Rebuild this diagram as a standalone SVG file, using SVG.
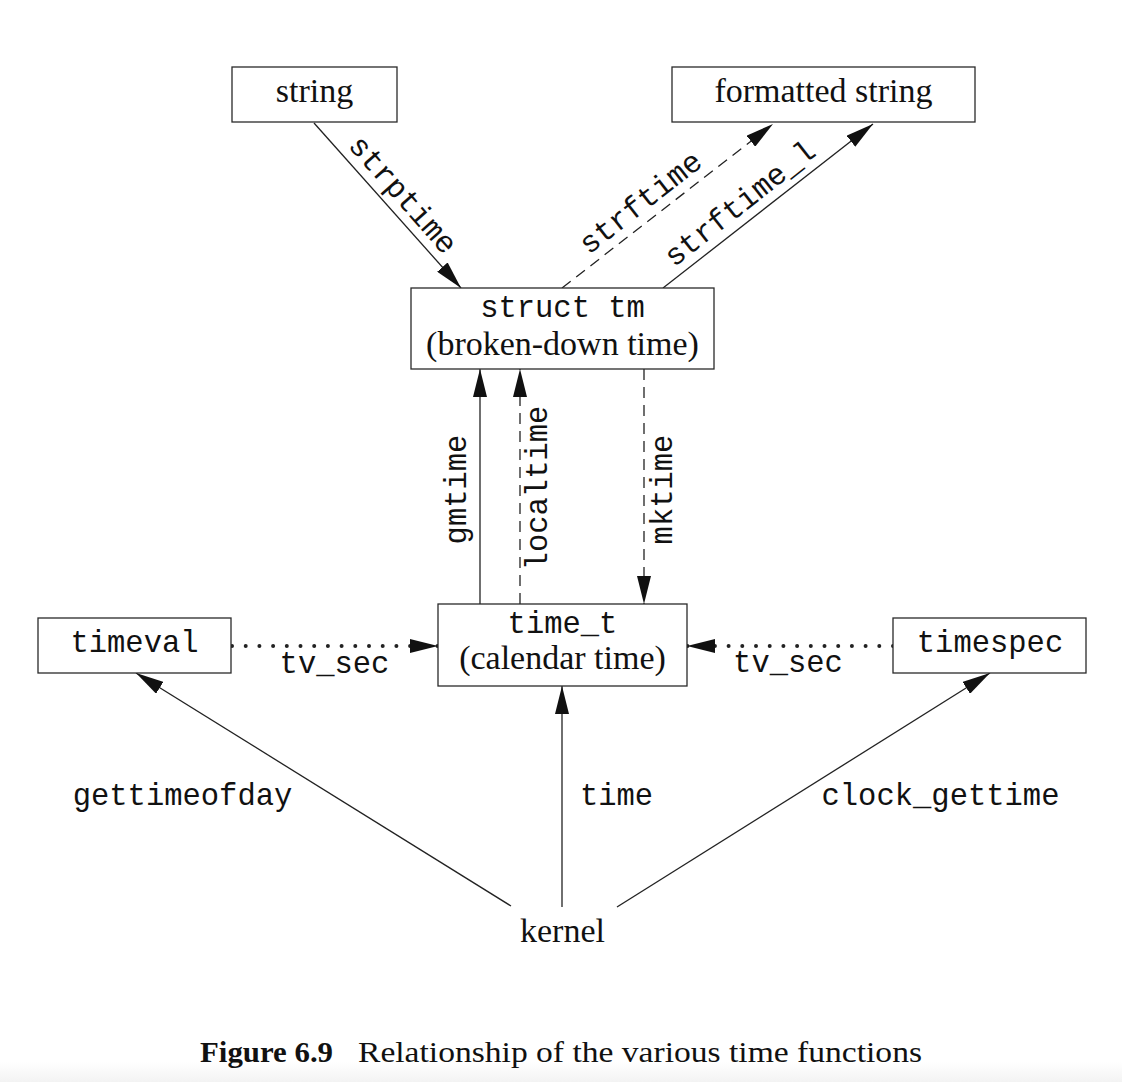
<svg xmlns="http://www.w3.org/2000/svg" width="1122" height="1082" viewBox="0 0 1122 1082">
  <style>
    .box { fill: #ffffff; stroke: #2a2a2a; stroke-width: 1.3; }
    .serif { font-family: "Liberation Serif", "Times New Roman", serif; font-size: 34px; fill: #111; }
    .mono { font-family: "Liberation Mono", "Courier New", monospace; font-size: 30.5px; fill: #111; }
    .ln { fill: none; stroke: #222; stroke-width: 1.3; }
    .dash { stroke-dasharray: 11 7; }
    .dot { stroke-width: 4; stroke-linecap: round; stroke-dasharray: 0 13.7; }
    .cap { font-family: "Liberation Serif", "Times New Roman", serif; font-size: 30px; fill: #111; }
  </style>
  <defs>
    <marker id="arr" markerUnits="userSpaceOnUse" markerWidth="28" markerHeight="14" refX="28" refY="7" orient="auto">
      <path d="M0,0 L28,7 L0,14 z" fill="#111"/>
    </marker>
    <linearGradient id="bottomfade" x1="0" y1="0" x2="0" y2="1">
      <stop offset="0" stop-color="#ffffff"/>
      <stop offset="1" stop-color="#f3f3f3"/>
    </linearGradient>
  </defs>
  <rect x="0" y="0" width="1122" height="1082" fill="#ffffff"/>
  <rect x="0" y="1062" width="1122" height="20" fill="url(#bottomfade)"/>

  <g id="connectors">
    <line id="e-strptime" class="ln" x1="314" y1="123" x2="461" y2="288" marker-end="url(#arr)"/>
    <line id="e-strftime" class="ln dash" x1="562" y1="288" x2="773" y2="124" marker-end="url(#arr)"/>
    <line id="e-strftime_l" class="ln" x1="663" y1="288" x2="873" y2="124" marker-end="url(#arr)"/>
    <line id="e-gmtime" class="ln" x1="480" y1="604" x2="480" y2="369" marker-end="url(#arr)"/>
    <line id="e-localtime" class="ln dash" x1="520" y1="604" x2="520" y2="369" marker-end="url(#arr)"/>
    <line id="e-mktime" class="ln dash" x1="644" y1="369" x2="644" y2="604" marker-end="url(#arr)"/>
    <line id="e-tvsec-l" class="ln dot" x1="232" y1="646" x2="438" y2="646" marker-end="url(#arr)"/>
    <line id="e-tvsec-r" class="ln dot" x1="893" y1="646" x2="687" y2="646" marker-end="url(#arr)"/>
    <line id="e-gettimeofday" class="ln" x1="511" y1="906" x2="136" y2="673" marker-end="url(#arr)"/>
    <line id="e-time" class="ln" x1="562" y1="907" x2="562" y2="686" marker-end="url(#arr)"/>
    <line id="e-clock_gettime" class="ln" x1="617" y1="907" x2="990" y2="673" marker-end="url(#arr)"/>

    <text class="mono" text-anchor="middle" transform="translate(389,207) rotate(48.5)" y="-9">strptime</text>
    <text class="mono" text-anchor="middle" transform="translate(652.6,218) rotate(-38)" y="-10">strftime</text>
    <text class="mono" text-anchor="middle" transform="translate(752,219) rotate(-38.2)" y="-10">strftime_l</text>
    <text class="mono" text-anchor="middle" transform="translate(466,489.5) rotate(-90)">gmtime</text>
    <text class="mono" text-anchor="middle" transform="translate(547,488) rotate(-90)">localtime</text>
    <text class="mono" text-anchor="middle" transform="translate(671.5,489.5) rotate(-90)">mktime</text>
    <text class="mono" text-anchor="middle" x="334.5" y="673">tv_sec</text>
    <text class="mono" text-anchor="middle" x="788" y="672">tv_sec</text>
    <text class="mono" text-anchor="middle" x="182.5" y="805">gettimeofday</text>
    <text class="mono" text-anchor="middle" x="616.5" y="805">time</text>
    <text class="mono" text-anchor="middle" x="940.5" y="805">clock_gettime</text>
  </g>

  <g id="n-string">
    <rect class="box" x="232" y="67" width="165" height="55"/>
    <text class="serif" text-anchor="middle" x="314.5" y="102">string</text>
  </g>
  <g id="n-formatted">
    <rect class="box" x="672" y="67" width="303" height="55"/>
    <text class="serif" text-anchor="middle" x="823.5" y="102">formatted string</text>
  </g>
  <g id="n-structtm">
    <rect class="box" x="411" y="288" width="303" height="81"/>
    <text class="mono" text-anchor="middle" x="562.5" y="317">struct tm</text>
    <text class="serif" text-anchor="middle" x="562.5" y="355">(broken-down time)</text>
  </g>
  <g id="n-time_t">
    <rect class="box" x="438" y="604" width="249" height="82"/>
    <text class="mono" text-anchor="middle" x="562.5" y="633">time_t</text>
    <text class="serif" text-anchor="middle" x="562.5" y="669">(calendar time)</text>
  </g>
  <g id="n-timeval">
    <rect class="box" x="38" y="618" width="193" height="55"/>
    <text class="mono" text-anchor="middle" x="134.5" y="652">timeval</text>
  </g>
  <g id="n-timespec">
    <rect class="box" x="893" y="618" width="193" height="55"/>
    <text class="mono" text-anchor="middle" x="990" y="652">timespec</text>
  </g>
  <g id="n-kernel">
    <text class="serif" text-anchor="middle" x="562.5" y="942">kernel</text>
  </g>

  <g id="caption">
    <text class="cap" font-weight="bold" x="200" y="1061.5" textLength="133" lengthAdjust="spacingAndGlyphs">Figure 6.9</text>
    <text class="cap" x="358" y="1061.5" textLength="564" lengthAdjust="spacingAndGlyphs">Relationship of the various time functions</text>
  </g>
</svg>
